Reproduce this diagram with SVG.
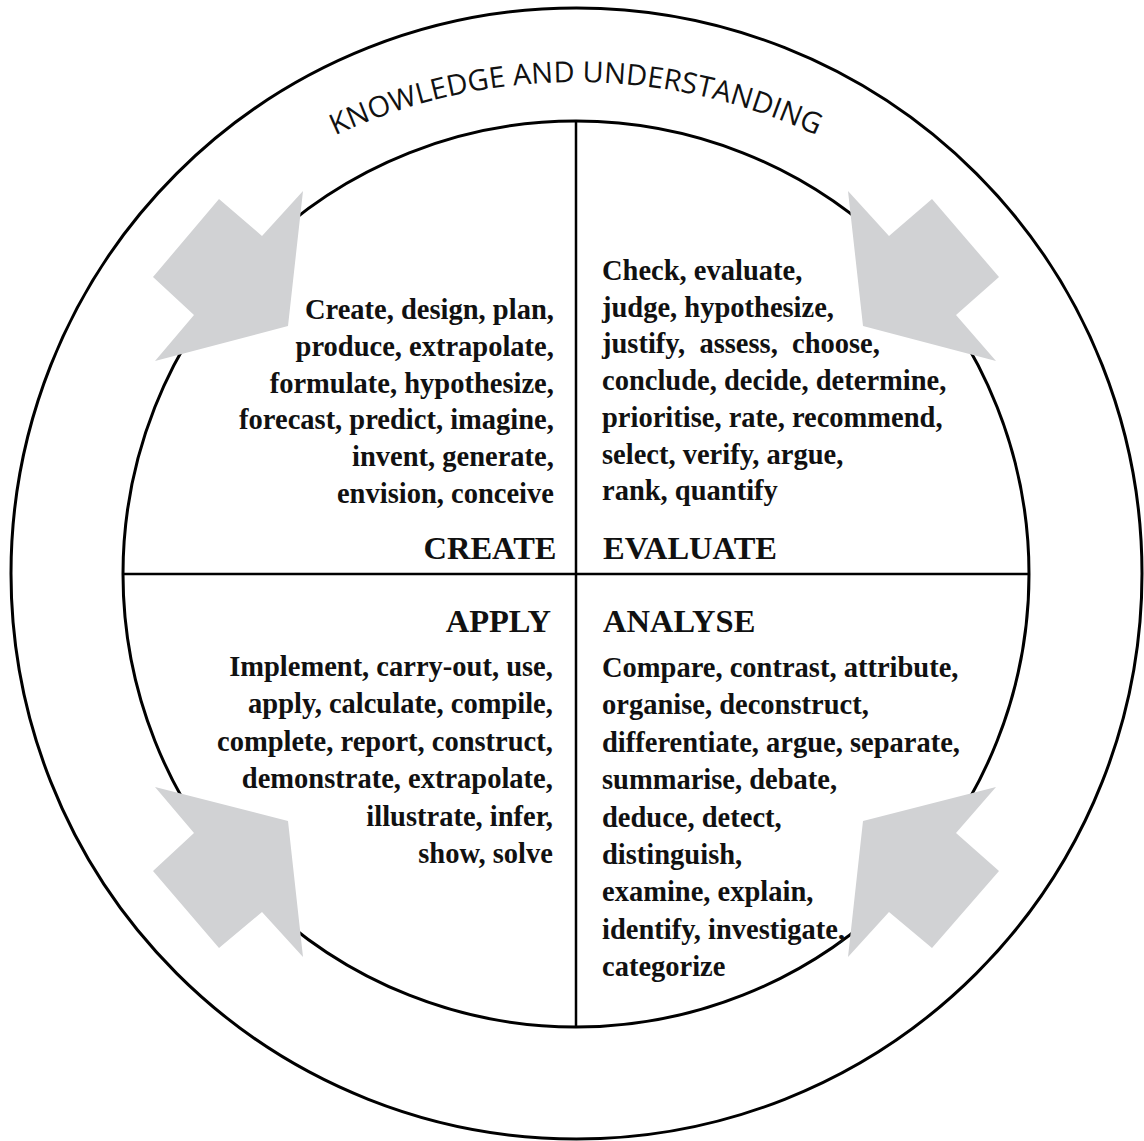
<svg xmlns="http://www.w3.org/2000/svg" width="1144" height="1141" viewBox="0 0 1144 1141">
<style>
.ring{fill:none;stroke:#000;stroke-width:3}
.div{stroke:#000;stroke-width:2.5}
.arrow{fill:#d1d2d4;stroke:none}
.body{font-family:"Liberation Serif","Times New Roman",serif;font-weight:bold;font-size:28.5px;fill:#111;white-space:pre}
.head{font-family:"Liberation Serif","Times New Roman",serif;font-weight:bold;font-size:32.5px;fill:#111}
.title{font-family:"Open Sans","Liberation Sans",sans-serif;font-size:29px;fill:#111}
.r{text-anchor:end}
</style>
<defs>
<path id="arc" d="M209.6,215.5 A570,570 0 0 1 942.4,215.5"/>
</defs>
<rect width="1144" height="1141" fill="#fff"/>
<g id="outer-circle"><circle class="ring" cx="576.5" cy="573.5" r="565.5"/></g>
<g id="inner-circle"><circle class="ring" cx="576" cy="574" r="453"/></g>
<g id="connectors">
<line class="div" x1="576" y1="121" x2="576" y2="1027"/>
<line class="div" x1="123" y1="574" x2="1029" y2="574"/>
<polygon class="arrow" points="219,199 262,236 303,191 288,326 155,361 194,315 153,277"/>
<polygon class="arrow" points="932,199 889,236 848,191 863,326 996,361 956,315 999,277"/>
<polygon class="arrow" points="155,787 288,821 303,957 262,912 219,948 153,871 194,833"/>
<polygon class="arrow" points="996,787 863,821 848,957 889,912 932,948 999,871 956,833"/>
</g>
<g id="title">
<text class="title"><textPath href="#arc" startOffset="50%" text-anchor="middle">KNOWLEDGE AND UNDERSTANDING</textPath></text>
</g>
<g id="create">
<text class="body r" x="561">
<tspan x="561" y="319">Create, design, plan,</tspan>
<tspan x="561" y="355.8">produce, extrapolate,</tspan>
<tspan x="561" y="392.6">formulate, hypothesize,</tspan>
<tspan x="561" y="429.4">forecast, predict, imagine,</tspan>
<tspan x="561" y="466.2">invent, generate,</tspan>
<tspan x="561" y="503">envision, conceive</tspan>
</text>
<text class="head r" x="556.5" y="559">CREATE</text>
</g>
<g id="evaluate">
<text class="body" x="602">
<tspan x="602" y="280">Check, evaluate,</tspan>
<tspan x="602" y="316.7">judge, hypothesize,</tspan>
<tspan x="602" y="353.4">justify,  assess,  choose,</tspan>
<tspan x="602" y="390.1">conclude, decide, determine,</tspan>
<tspan x="602" y="426.8">prioritise, rate, recommend,</tspan>
<tspan x="602" y="463.5">select, verify, argue,</tspan>
<tspan x="602" y="500.2">rank, quantify</tspan>
</text>
<text class="head" x="603" y="559">EVALUATE</text>
</g>
<g id="apply">
<text class="head r" x="551" y="632">APPLY</text>
<text class="body r" x="560">
<tspan x="560" y="676">Implement, carry-out, use,</tspan>
<tspan x="560" y="713.4">apply, calculate, compile,</tspan>
<tspan x="560" y="750.8">complete, report, construct,</tspan>
<tspan x="560" y="788.2">demonstrate, extrapolate,</tspan>
<tspan x="560" y="825.6">illustrate, infer,</tspan>
<tspan x="560" y="863">show, solve</tspan>
</text>
</g>
<g id="analyse">
<text class="head" x="603" y="632">ANALYSE</text>
<text class="body" x="602">
<tspan x="602" y="677">Compare, contrast, attribute,</tspan>
<tspan x="602" y="714.4">organise, deconstruct,</tspan>
<tspan x="602" y="751.8">differentiate, argue, separate,</tspan>
<tspan x="602" y="789.2">summarise, debate,</tspan>
<tspan x="602" y="826.6">deduce, detect,</tspan>
<tspan x="602" y="864">distinguish,</tspan>
<tspan x="602" y="901.4">examine, explain,</tspan>
<tspan x="602" y="938.8">identify, investigate,</tspan>
<tspan x="602" y="976.2">categorize</tspan>
</text>
</g>
</svg>
